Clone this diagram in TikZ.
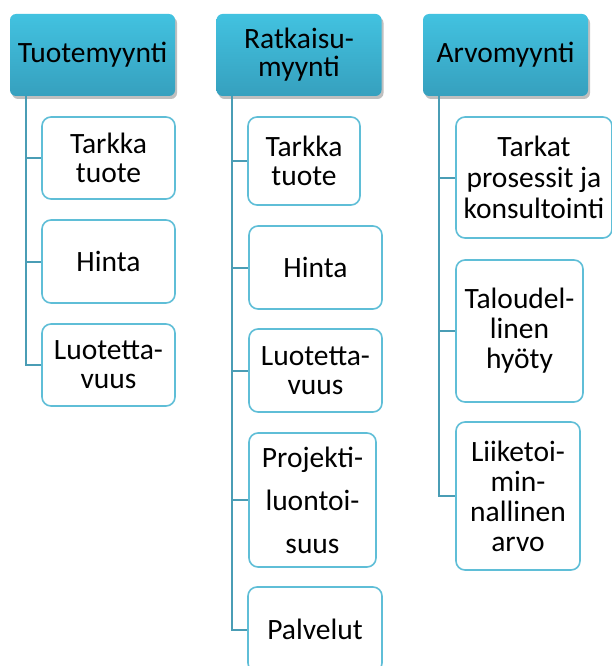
\documentclass[tikz,border=0pt]{standalone}
\usepackage{fontspec}
\setmainfont{Carlito}
\usetikzlibrary{shadows}
\definecolor{hdtop}{RGB}{66,194,224}
\definecolor{hdbot}{RGB}{54,160,190}
\definecolor{trunkc}{RGB}{74,157,181}
\definecolor{boxc}{RGB}{95,190,215}
\begin{document}
\begin{tikzpicture}[x=1pt,y=-1pt,
        head/.style={rounded corners=6pt, top color=hdtop, bottom color=hdbot,
            minimum width=165pt, minimum height=82pt, align=center, inner sep=0pt,
            font=\fontsize{29.5}{28}\selectfont,
            drop shadow={shadow xshift=2pt,shadow yshift=-3pt,opacity=0.25,fill=black}},
        item/.style={draw=boxc, line width=1.6pt, fill=white, rounded corners=9pt,
            align=center, inner sep=0pt, font=\fontsize{29.5}{29}\selectfont},
        link/.style={draw=trunkc, line width=2pt}]
        \useasboundingbox (0,0) rectangle (611,666);

        \node[head] (tuote) at (92.5,55) {Tuotemyynti};
        \node[head] (ratk) at (299,55) {Ratkaisu-\\myynti};
        \node[head] (arvo) at (505.5,55) {Arvomyynti};

        \begin{scope}
            \node[item, minimum width=133pt, minimum height=82pt] (t1) at (108.5,158) {Tarkka\\tuote};
            \node[item, minimum width=133pt, minimum height=83pt] (t2) at (108.5,261.5) {Hinta};
            \node[item, minimum width=133pt, minimum height=82pt] (t3) at (108.5,365) {Luotetta-\\vuus};
            \coordinate (tuoteT) at ([xshift=16pt]tuote.south west);
            \draw[link] (tuoteT) |- (t3.west);
            \foreach \n in {t1,t2}
                \draw[link] (tuoteT |- \n.west) -- (\n.west);
        \end{scope}

        \begin{scope}
            \node[item, minimum width=112pt, minimum height=88pt] (r1) at (304,161) {Tarkka\\tuote};
            \node[item, minimum width=133pt, minimum height=83pt] (r2) at (315.5,267.5) {Hinta};
            \node[item, minimum width=133pt, minimum height=83pt] (r3) at (315.5,370.5) {Luotetta-\\vuus};
            \node[item, minimum width=127pt, minimum height=134pt,
                font=\fontsize{29.5}{43}\selectfont] (r4) at (312.5,500) {Projekti-\\luontoi-\\suus};
            \node[item, minimum width=134pt, minimum height=85pt] (r5) at (315,629.5) {Palvelut};
            \coordinate (ratkT) at ([xshift=16pt]ratk.south west);
            \draw[link] (ratkT) |- (r5.west);
            \foreach \n in {r1,r2,r3,r4}
                \draw[link] (ratkT |- \n.west) -- (\n.west);
        \end{scope}

        \begin{scope}
            \node[item, minimum width=156pt, minimum height=121pt, font=\fontsize{29.5}{31}\selectfont] (a1) at (534,177.5) {Tarkat\\prosessit ja\\konsultointi};
            \node[item, minimum width=127pt, minimum height=142pt, font=\fontsize{29.5}{30}\selectfont] (a2) at (519.5,331) {Taloudel-\\linen\\hyöty};
            \node[item, minimum width=124pt, minimum height=148pt, font=\fontsize{29.5}{30}\selectfont] (a3) at (518,496) {Liiketoi-\\min-\\nallinen\\arvo};
            \coordinate (arvoT) at ([xshift=16pt]arvo.south west);
            \draw[link] (arvoT) |- (a3.west);
            \foreach \n in {a1,a2}
                \draw[link] (arvoT |- \n.west) -- (\n.west);
        \end{scope}
    \end{tikzpicture}
\end{document}
